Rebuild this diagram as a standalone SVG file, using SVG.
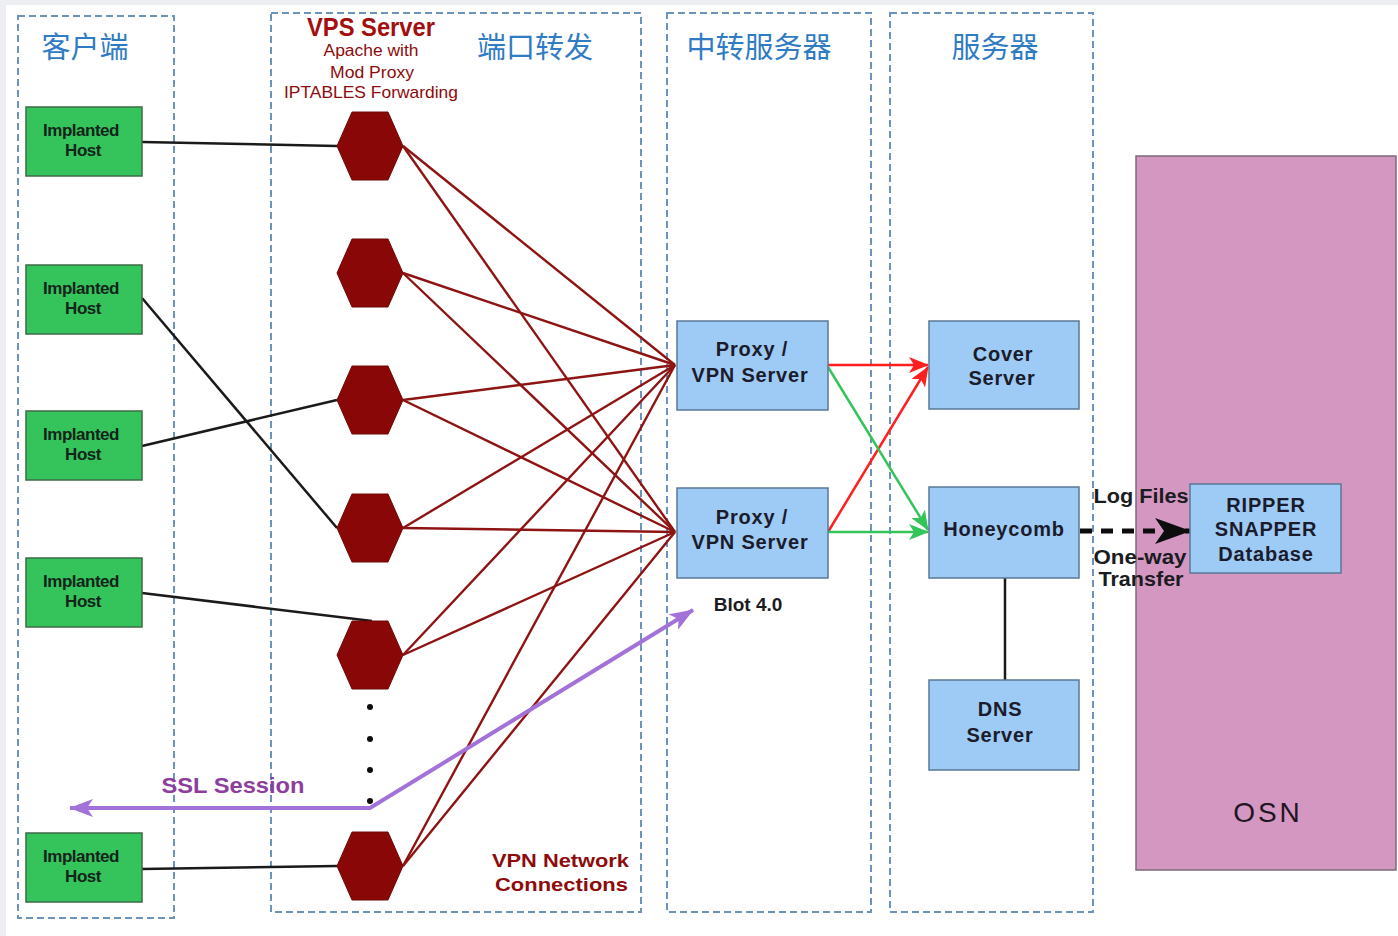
<svg xmlns="http://www.w3.org/2000/svg" width="1398" height="936" viewBox="0 0 1398 936">
  <style>
    .zone { fill: none; stroke: #6b93bb; stroke-width: 2; stroke-dasharray: 7 4; }
    .zh { font-family: "Noto Sans CJK SC", "Noto Sans", sans-serif; font-size: 29px; fill: #2f7bc4; text-anchor: middle; }
    .host { fill: #35c35c; stroke: #3d6b47; stroke-width: 1.5; }
    .hostt { font-family: "Liberation Sans", Arial, sans-serif; font-weight: bold; font-size: 17px; fill: #13241a; text-anchor: middle; letter-spacing: -0.5px; }
    .hex { fill: #8a0707; stroke: #6e0808; stroke-width: 1; }
    .box { fill: #9dcbf6; stroke: #5a7897; stroke-width: 1.5; }
    .boxt { font-family: "Liberation Sans", Arial, sans-serif; font-weight: bold; font-size: 20px; fill: #1b1b2b; text-anchor: middle; letter-spacing: 0.8px; }
    .red { font-family: "Liberation Sans", Arial, sans-serif; font-weight: bold; fill: #8e0b0b; }
    .thin { font-weight: normal; }
    .lbl { font-family: "Liberation Sans", Arial, sans-serif; font-weight: bold; fill: #1b1b22; }
    .fan { stroke: #8e1414; stroke-width: 2.4; fill: none; }
    .wire { stroke: #1a1a1a; stroke-width: 2.5; fill: none; }
  </style>
  <defs>
    <marker id="arrRed" viewBox="0 0 20 16" refX="19" refY="8" markerWidth="20" markerHeight="16" markerUnits="userSpaceOnUse" orient="auto">
      <path d="M0,0 L20,8 L0,16 L5,8 Z" fill="#ff1f1f"/>
    </marker>
    <marker id="arrGreen" viewBox="0 0 20 16" refX="19" refY="8" markerWidth="20" markerHeight="16" markerUnits="userSpaceOnUse" orient="auto">
      <path d="M0,0 L20,8 L0,16 L5,8 Z" fill="#33c45a"/>
    </marker>
    <marker id="arrPurple" viewBox="0 0 24 18" refX="23" refY="9" markerWidth="24" markerHeight="18" markerUnits="userSpaceOnUse" orient="auto-start-reverse">
      <path d="M0,0 L24,9 L0,18 L6,9 Z" fill="#a372d9"/>
    </marker>
    <marker id="arrBlack" viewBox="0 0 36 26" refX="35" refY="13" markerWidth="36" markerHeight="26" markerUnits="userSpaceOnUse" orient="auto">
      <path d="M0,0 L36,13 L0,26 L9,13 Z" fill="#0d0d0d"/>
    </marker>
    <polygon id="hexShape" points="-33,0 -18,-34 18,-34 33,0 18,34 -18,34" class="hex"/>
  </defs>

  <!-- canvas -->
  <rect x="0" y="0" width="1398" height="936" fill="#eceef2"/>
  <rect x="6" y="5" width="1392" height="931" fill="#ffffff"/>

  <!-- zones -->
  <g id="zones">
    <rect class="zone" x="18" y="16" width="156" height="902"/>
    <rect class="zone" x="271" y="13" width="370" height="899"/>
    <rect class="zone" x="667" y="13" width="204" height="899"/>
    <rect class="zone" x="890" y="13" width="203" height="899"/>
    <text class="zh" x="85" y="58">客户端</text>
    <text class="zh" x="535" y="58">端口转发</text>
    <text class="zh" x="759" y="58">中转服务器</text>
    <text class="zh" x="995" y="58">服务器</text>
  </g>

  <!-- OSN area -->
  <g id="osn">
    <rect x="1136" y="156" width="260" height="714" fill="#d497c1" stroke="#7d6a78" stroke-width="1.5"/>
    <text x="1268" y="822" font-family="Liberation Sans, Arial, sans-serif" font-size="28" fill="#221522" text-anchor="middle" letter-spacing="3">OSN</text>
  </g>

  <!-- connectors -->
  <g id="connectors">
    <!-- implanted hosts to forwarders -->
    <line class="wire" x1="142" y1="142" x2="337" y2="146"/>
    <line class="wire" x1="142" y1="298" x2="337" y2="528"/>
    <line class="wire" x1="142" y1="446" x2="337" y2="400"/>
    <line class="wire" x1="142" y1="593" x2="372" y2="621"/>
    <line class="wire" x1="142" y1="869" x2="337" y2="866"/>
    <!-- forwarders to proxies -->
    <g class="fan">
      <line x1="403" y1="146" x2="675" y2="365"/>
      <line x1="403" y1="146" x2="675" y2="532"/>
      <line x1="403" y1="273" x2="675" y2="365"/>
      <line x1="403" y1="273" x2="675" y2="532"/>
      <line x1="403" y1="400" x2="675" y2="365"/>
      <line x1="403" y1="400" x2="675" y2="532"/>
      <line x1="403" y1="528" x2="675" y2="365"/>
      <line x1="403" y1="528" x2="675" y2="532"/>
      <line x1="403" y1="655" x2="675" y2="365"/>
      <line x1="403" y1="655" x2="675" y2="532"/>
      <line x1="403" y1="866" x2="675" y2="365"/>
      <line x1="403" y1="866" x2="675" y2="532"/>
    </g>
    <!-- proxies to servers -->
    <line x1="828" y1="365" x2="928" y2="365" stroke="#ff1f1f" stroke-width="2.5" marker-end="url(#arrRed)"/>
    <line x1="828" y1="532" x2="928" y2="367" stroke="#ff1f1f" stroke-width="2.5" marker-end="url(#arrRed)"/>
    <line x1="828" y1="367" x2="928" y2="530" stroke="#33c45a" stroke-width="2.5" marker-end="url(#arrGreen)"/>
    <line x1="828" y1="532" x2="928" y2="532" stroke="#33c45a" stroke-width="2.5" marker-end="url(#arrGreen)"/>
    <!-- honeycomb to DNS -->
    <line x1="1005" y1="578" x2="1005" y2="680" stroke="#1a1a1a" stroke-width="2.5"/>
    <!-- one-way transfer -->
    <line x1="1080" y1="531" x2="1190" y2="531" stroke="#0d0d0d" stroke-width="5" stroke-dasharray="12 9" marker-end="url(#arrBlack)"/>
    <!-- SSL session -->
    <polyline points="693,610 370,808 70,808" fill="none" stroke="#a372d9" stroke-width="4" marker-start="url(#arrPurple)" marker-end="url(#arrPurple)"/>
    <!-- continuation dots -->
    <g fill="#0d0d0d">
      <circle cx="370" cy="707" r="3"/>
      <circle cx="370" cy="739" r="3"/>
      <circle cx="370" cy="770" r="3"/>
      <circle cx="370" cy="801" r="3"/>
    </g>
  </g>

  <!-- implanted hosts -->
  <g id="host1"><rect class="host" x="26" y="107" width="116" height="69"/><text class="hostt" x="81" y="136">Implanted</text><text class="hostt" x="83" y="156">Host</text></g>
  <g id="host2"><rect class="host" x="26" y="265" width="116" height="69"/><text class="hostt" x="81" y="294">Implanted</text><text class="hostt" x="83" y="314">Host</text></g>
  <g id="host3"><rect class="host" x="26" y="411" width="116" height="69"/><text class="hostt" x="81" y="440">Implanted</text><text class="hostt" x="83" y="460">Host</text></g>
  <g id="host4"><rect class="host" x="26" y="558" width="116" height="69"/><text class="hostt" x="81" y="587">Implanted</text><text class="hostt" x="83" y="607">Host</text></g>
  <g id="host5"><rect class="host" x="26" y="833" width="116" height="69"/><text class="hostt" x="81" y="862">Implanted</text><text class="hostt" x="83" y="882">Host</text></g>

  <!-- VPS forwarders -->
  <g id="vps-label">
    <text class="red" x="371" y="36" font-size="25" text-anchor="middle" textLength="128" lengthAdjust="spacingAndGlyphs" style="fill:#a30f0f">VPS Server</text>
    <text class="red thin" x="371" y="56" font-size="16" text-anchor="middle" textLength="95" lengthAdjust="spacingAndGlyphs">Apache with</text>
    <text class="red thin" x="372" y="78" font-size="16" text-anchor="middle" textLength="84" lengthAdjust="spacingAndGlyphs">Mod Proxy</text>
    <text class="red thin" x="371" y="98" font-size="17" text-anchor="middle" textLength="174" lengthAdjust="spacingAndGlyphs">IPTABLES Forwarding</text>
  </g>
  <g id="vps1"><use href="#hexShape" x="370" y="146"/></g>
  <g id="vps2"><use href="#hexShape" x="370" y="273"/></g>
  <g id="vps3"><use href="#hexShape" x="370" y="400"/></g>
  <g id="vps4"><use href="#hexShape" x="370" y="528"/></g>
  <g id="vps5"><use href="#hexShape" x="370" y="655"/></g>
  <g id="vps6"><use href="#hexShape" x="370" y="866"/></g>

  <!-- proxy / VPN servers -->
  <g id="proxy1"><rect class="box" x="677" y="321" width="151" height="89"/><text class="boxt" x="752" y="356">Proxy /</text><text class="boxt" x="750" y="382">VPN Server</text></g>
  <g id="proxy2"><rect class="box" x="677" y="488" width="151" height="90"/><text class="boxt" x="752" y="524">Proxy /</text><text class="boxt" x="750" y="549">VPN Server</text></g>
  <text class="lbl" x="748" y="611" font-size="19" text-anchor="middle">Blot 4.0</text>

  <!-- back-end servers -->
  <g id="cover"><rect class="box" x="929" y="321" width="150" height="88"/><text class="boxt" x="1003" y="361">Cover</text><text class="boxt" x="1002" y="385">Server</text></g>
  <g id="honeycomb"><rect class="box" x="929" y="487" width="150" height="91"/><text class="boxt" x="1004" y="536">Honeycomb</text></g>
  <g id="dns"><rect class="box" x="929" y="680" width="150" height="90"/><text class="boxt" x="1000" y="716">DNS</text><text class="boxt" x="1000" y="742">Server</text></g>

  <!-- OSN database -->
  <g id="ripper">
    <rect class="box" x="1190" y="484" width="151" height="89"/>
    <text class="boxt" x="1266" y="512" font-size="19" letter-spacing="1.5">RIPPER</text>
    <text class="boxt" x="1266" y="536" font-size="19" letter-spacing="1.5">SNAPPER</text>
    <text class="boxt" x="1266" y="561" font-size="19" letter-spacing="1">Database</text>
  </g>
  <g id="transfer-labels">
    <text class="lbl" x="1141" y="503" font-size="20" text-anchor="middle" textLength="95" lengthAdjust="spacingAndGlyphs">Log Files</text>
    <text class="lbl" x="1140" y="564" font-size="20" text-anchor="middle" textLength="93" lengthAdjust="spacingAndGlyphs">One-way</text>
    <text class="lbl" x="1141" y="586" font-size="20" text-anchor="middle" textLength="85" lengthAdjust="spacingAndGlyphs">Transfer</text>
  </g>

  <!-- other labels -->
  <text x="233" y="793" font-family="Liberation Sans, Arial, sans-serif" font-weight="bold" font-size="22" fill="#8d3d9e" text-anchor="middle" textLength="143" lengthAdjust="spacingAndGlyphs">SSL Session</text>
  <text class="red" x="629" y="867" font-size="19" text-anchor="end" textLength="137" lengthAdjust="spacingAndGlyphs">VPN Network</text>
  <text class="red" x="628" y="891" font-size="19" text-anchor="end" textLength="133" lengthAdjust="spacingAndGlyphs">Connections</text>
</svg>
